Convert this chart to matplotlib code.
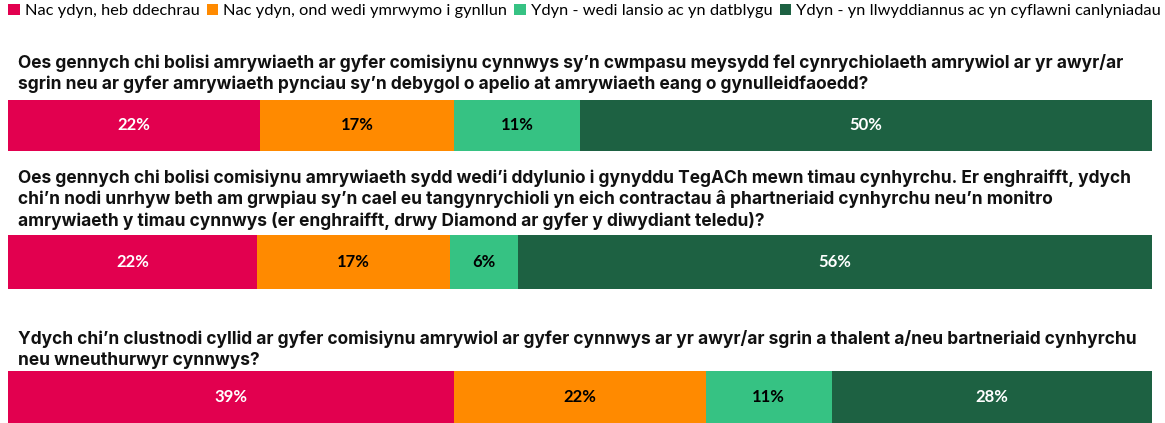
import matplotlib
matplotlib.use("Agg")
import matplotlib.pyplot as plt
from matplotlib.patches import Patch
import numpy as np

categories = [
    "Nac ydyn, heb ddechrau",
    "Nac ydyn, ond wedi ymrwymo i gynllun",
    "Ydyn - wedi lansio ac yn datblygu",
    "Ydyn - yn llwyddiannus ac yn cyflawni canlyniadau",
]
colors = ["#E2004F", "#FF8A00", "#36C283", "#1D6142"]
text_colors = ["white", "black", "black", "white"]

questions = [
    "Oes gennych chi bolisi amrywiaeth ar gyfer comisiynu cynnwys sy\u2019n cwmpasu meysydd fel cynrychiolaeth amrywiol ar yr awyr/ar\n"
    "sgrin neu ar gyfer amrywiaeth pynciau sy\u2019n debygol o apelio at amrywiaeth eang o gynulleidfaoedd?",
    "Oes gennych chi bolisi comisiynu amrywiaeth sydd wedi\u2019i ddylunio i gynyddu TegACh mewn timau cynhyrchu. Er enghraifft, ydych\n"
    "chi\u2019n nodi unrhyw beth am grwpiau sy\u2019n cael eu tangynrychioli yn eich contractau \u00e2 phartneriaid cynhyrchu neu\u2019n monitro\n"
    "amrywiaeth y timau cynnwys (er enghraifft, drwy Diamond ar gyfer y diwydiant teledu)?",
    "Ydych chi\u2019n clustnodi cyllid ar gyfer comisiynu amrywiol ar gyfer cynnwys ar yr awyr/ar sgrin a thalent a/neu bartneriaid cynhyrchu\n"
    "neu wneuthurwyr cynnwys?",
]
values = [
    [22, 17, 11, 50],
    [22, 17, 6, 56],
    [39, 22, 11, 28],
]

W, H = 1165, 423
fig = plt.figure(figsize=(W / 100, H / 100), dpi=100)

# bar boxes in pixels: (top, bottom)
bar_px = [(100, 151), (235, 289), (371, 423)]
title_top_px = [54, 169, 330]
left_px, right_px = 8, 1152

for q, vals, (top, bot), ttop in zip(questions, values, bar_px, title_top_px):
    ax = fig.add_axes([left_px / W, 1 - bot / H, (right_px - left_px) / W, (bot - top) / H])
    vals = np.array(vals, dtype=float)
    total = vals.sum()
    left = 0.0
    for v, c, tc in zip(vals, colors, text_colors):
        ax.barh(0, v, left=left, height=1.0, color=c, edgecolor="none")
        ax.text(left + v / 2, 0, f"{int(v)}%", ha="center", va="center",
                color=tc, fontsize=12, fontweight="bold", family="Lato")
        left += v
    ax.set_xlim(0, total)
    ax.set_ylim(-0.5, 0.5)
    ax.axis("off")
    fig.text(18 / W, 1 - ttop / H, q, ha="left", va="top", fontsize=12.5,
             fontweight="bold", family="Inter", linespacing=1.28, color="#111111")

handles = [Patch(facecolor=c, edgecolor="none") for c in colors]
fig.legend(handles, categories, loc="upper left", bbox_to_anchor=(0.0, 1.01),
           ncol=4, frameon=False, prop={"family": "Lato", "size": 11.8},
           handlelength=0.7, handleheight=0.7, handletextpad=0.3,
           columnspacing=0.45, borderaxespad=0.2, borderpad=0.3)

fig.savefig("out.png", dpi=100)
